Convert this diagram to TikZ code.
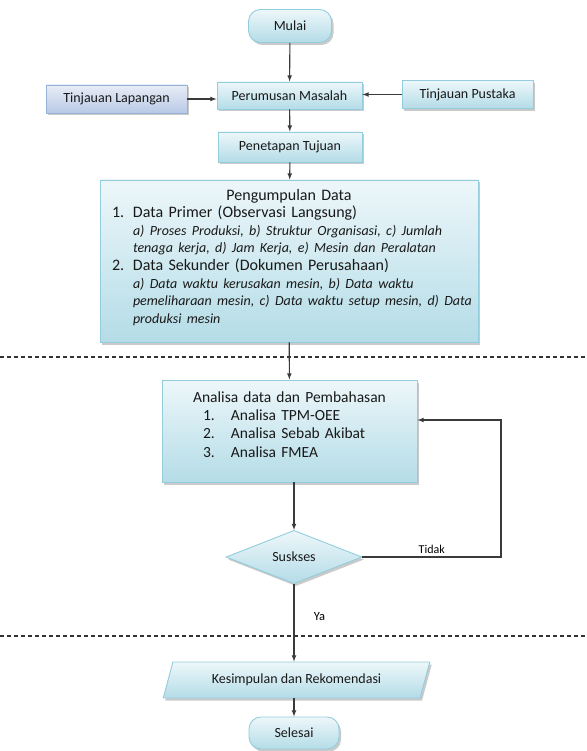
\documentclass[tikz,border=0pt]{standalone}
\usepackage{fontspec}
\setmainfont{Carlito}
\usetikzlibrary{calc,positioning,shapes.geometric,shadows}

\definecolor{boxtop}{HTML}{EDF7FA}
\definecolor{boxbot}{HTML}{B4DCE7}
\definecolor{boxline}{HTML}{93CDDD}
\definecolor{sidetop}{HTML}{E8EDF6}
\definecolor{sidebot}{HTML}{B8C9E5}
\definecolor{sideline}{HTML}{95B3D7}
\definecolor{lineclr}{HTML}{3A3A3A}

\begin{document}
\begin{tikzpicture}[x=1pt,y=-1pt]

\tikzstyle{flowbox} = [rectangle, draw=boxline, line width=0.9pt, top color=boxtop, bottom color=boxbot, inner sep=3pt, font=\fontsize{14}{17}\selectfont, text=black!90, drop shadow={shadow xshift=2pt,shadow yshift=-2.5pt,opacity=0.35,fill=black!60}]%
\tikzstyle{sidebox} = [flowbox, draw=sideline, top color=sidetop, bottom color=sidebot]%
\tikzstyle{termbox} = [flowbox, rounded corners=12pt]%
\tikzstyle{bigbox} = [flowbox, font=\fontsize{16}{17.6}\selectfont, align=left]%
\tikzstyle{decbox} = [flowbox, diamond, inner sep=0pt]%
\tikzstyle{iobox} = [flowbox, trapezium, trapezium left angle=61, trapezium right angle=119, trapezium stretches=true, inner sep=0pt]%
\tikzstyle{flowarc} = [->, >=latex, draw=lineclr, line width=1.1pt]%
\tikzstyle{divider} = [dashed, dash pattern=on 4pt off 3pt, line width=1.1pt, black!80]%

\useasboundingbox (0,0) rectangle (586,751);

\node[termbox, minimum width=83pt, minimum height=33pt] (mulai) at (290,26) {Mulai};
\node[flowbox, minimum width=145pt, minimum height=27pt] (perumusan) at (289.5,95.5) {Perumusan Masalah};
\node[sidebox, minimum width=141pt, minimum height=28pt] (lapangan) at (116.5,99) {Tinjauan Lapangan};
\node[flowbox, minimum width=131pt, minimum height=28pt] (pustaka) at (467.5,94.5) {Tinjauan Pustaka};
\node[flowbox, minimum width=144pt, minimum height=30pt] (penetapan) at (290,147) {Penetapan Tujuan};

\node[bigbox, minimum width=378pt, minimum height=162pt, text width=366pt] (pengumpulan) at (289,261) {%
\makebox[\linewidth]{Pengumpulan Data}\\
\hspace*{6pt}\makebox[21pt][l]{1.}Data Primer (Observasi Langsung)\\
\hspace*{27pt}{\itshape\fontsize{14}{17.6}\selectfont a) Proses Produksi, b) Struktur Organisasi, c) Jumlah}\\
\hspace*{27pt}{\itshape\fontsize{14}{17.6}\selectfont tenaga kerja, d) Jam Kerja, e) Mesin dan Peralatan}\\
\hspace*{6pt}\makebox[21pt][l]{2.}Data Sekunder (Dokumen Perusahaan)\\
\hspace*{27pt}{\itshape\fontsize{14}{17.6}\selectfont a) Data waktu kerusakan mesin, b) Data waktu}\\
\hspace*{27pt}{\itshape\fontsize{14}{17.6}\selectfont pemeliharaan mesin, c) Data waktu setup mesin, d) Data}\\
\hspace*{27pt}{\itshape\fontsize{14}{17.6}\selectfont produksi mesin}\\[-8pt]\mbox{}};

\node[bigbox, minimum width=255pt, minimum height=102pt, text width=235pt, font=\fontsize{15.5}{18.3}\selectfont] (analisa) at (289.5,431) {%
\makebox[\linewidth]{Analisa data dan Pembahasan}\\
\hspace*{31pt}\makebox[28pt][l]{1.}Analisa TPM-OEE\\
\hspace*{31pt}\makebox[28pt][l]{2.}Analisa Sebab Akibat\\
\hspace*{31pt}\makebox[28pt][l]{3.}Analisa FMEA\\[-5pt]\mbox{}};

\node[decbox, minimum width=136pt, minimum height=48pt] (sukses) at (294,557) {Suskses};
\node[iobox, minimum width=267pt, minimum height=36pt] (kesimpulan) at (296.5,680) {Kesimpulan dan Rekomendasi};
\node[termbox, minimum width=90pt, minimum height=32pt] (selesai) at (294,733) {Selesai};

\coordinate (balik) at (501,420);

\draw[divider] (0,357) -- (586,357);
\draw[divider] (0,636) -- (586,636);

\draw[flowarc] (mulai) -- (perumusan);
\draw[flowarc] (lapangan.east) -- (lapangan.east -| perumusan.west);
\draw[flowarc] (pustaka.west) -- (pustaka.west -| perumusan.east);
\draw[flowarc] (perumusan) -- (penetapan);
\draw[flowarc] (penetapan) -- (pengumpulan);
\draw[flowarc] (pengumpulan) -- (analisa);
\draw[flowarc] (analisa.south -| sukses.north) -- (sukses.north);
\draw[flowarc] (sukses.east) -| node[pos=0.25, above, font=\fontsize{12}{14}\selectfont] {Tidak} (balik) -- (balik -| analisa.east);
\draw[flowarc] (sukses.south) -- node[pos=0.42, right=16pt, font=\fontsize{12.5}{14}\selectfont] {Ya} (sukses.south |- kesimpulan.north);
\draw[flowarc] (kesimpulan.south -| selesai.north) -- (selesai.north);

\end{tikzpicture}
\end{document}
